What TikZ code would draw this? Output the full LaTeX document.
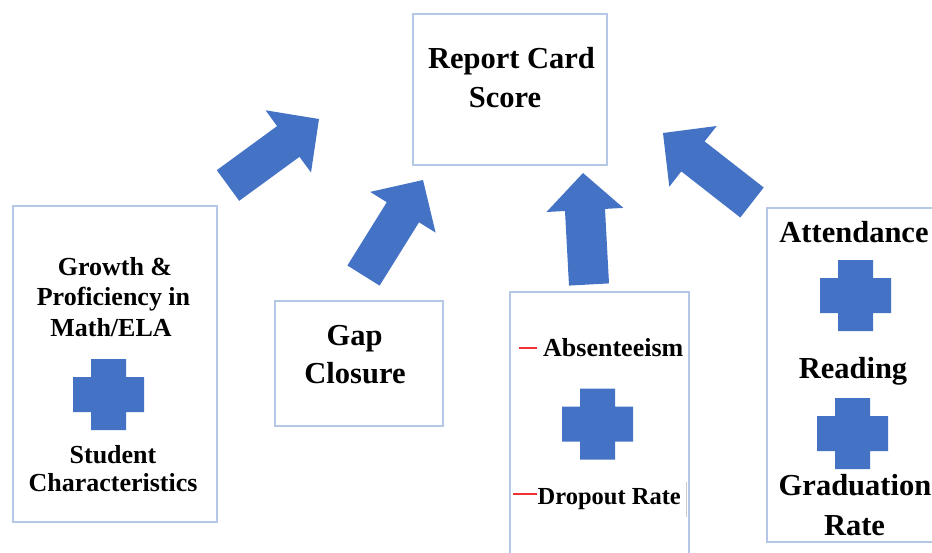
\documentclass[tikz,border=0pt]{standalone}
\usepackage{fontspec}
\setmainfont{Liberation Serif}
\definecolor{boxblue}{RGB}{180,199,231}
\definecolor{arrblue}{RGB}{68,114,196}
\definecolor{dashred}{RGB}{240,50,50}
\begin{document}
\begin{tikzpicture}[x=1pt,y=-1pt,
  box/.style={draw=boxblue,line width=1.6pt,inner sep=0pt},
  lbl/.style={anchor=base,inner sep=0pt,text=black},
  big/.style={lbl,font=\fontsize{30.5}{36}\selectfont\bfseries},
  mid/.style={lbl,font=\fontsize{26}{30}\selectfont\bfseries},
  blk/.style={fill=arrblue,draw=none},
  plussign/.pic={\fill[arrblue] (-17.5,-35.5) -- (17.5,-35.5) -- (17.5,-17.5) -- (35.5,-17.5) -- (35.5,17.5) -- (17.5,17.5) -- (17.5,35.5) -- (-17.5,35.5) -- (-17.5,17.5) -- (-35.5,17.5) -- (-35.5,-17.5) -- (-17.5,-17.5) -- cycle;}]
\useasboundingbox (0,0) rectangle (932,552);
\clip (0,0) rectangle (932,552);
\fill[white] (0,0) rectangle (932,552);

% boxes
\node[box,minimum width=194pt,minimum height=151pt] (report) at (510,89.5) {};
\node[box,minimum width=204pt,minimum height=316pt] (growth) at (115,364) {};
\node[box,minimum width=168pt,minimum height=125pt] (gap) at (359,363.5) {};
\node[box,minimum width=179pt,minimum height=300pt] (absent) at (599.5,442) {};
\node[box,minimum width=190pt,minimum height=334pt] (attend) at (862,375) {};

% texts
\node[big] (t1) at (511.5,68) {Report Card};
\node[big] (t2) at (505,107) {Score};

\node[mid] (g1) at (115,275) {Growth \&};
\node[mid] (g2) at (113.5,305) {Proficiency in};
\node[mid] (g3) at (111,336) {Math/ELA};
\node[mid] (g4) at (113,463) {Student};
\node[mid] (g5) at (113,491) {Characteristics};

\node[big] (c1) at (354.5,345) {Gap};
\node[big] (c2) at (355,383) {Closure};

\node[mid,anchor=base west] (a1) at (543,356) {Absenteeism};
\node[mid,anchor=base west,font=\fontsize{24.5}{30}\selectfont\bfseries] (a2) at (537.5,504) {Dropout Rate};
\coordinate (d1a) at (519,348); \coordinate (d1b) at (537,348);
\coordinate (d2a) at (513,494); \coordinate (d2b) at (537,494);
\draw[dashred,line width=2.5pt] (d1a) -- (d1b);
\draw[dashred,line width=2.5pt] (d2a) -- (d2b);
\coordinate (v1) at (686,482); \coordinate (v2) at (686,517);
\draw[black!20,line width=0.8pt] (v1) -- (v2);

\node[big] (r1) at (854,242) {Attendance};
\node[big] (r2) at (853,378) {Reading};
\node[big] (r3) at (855,495) {Graduation};
\node[big] (r4) at (854.5,535) {Rate};

% plus signs
\pic at (108.5,394.5) {plussign};
\pic at (597.5,424) {plussign};
\pic at (855.5,295.5) {plussign};
\pic at (852.5,433.5) {plussign};

% block arrows
\fill[blk] (239.2,200.8) -- (299.5,156.8) -- (311.0,172.5) -- (319,119) -- (265.6,110.3) -- (277.1,126.1) -- (216.8,170.2) -- cycle;
\fill[blk] (379.6,285.6) -- (419.0,222.3) -- (435.6,232.6) -- (423,180) -- (370.2,191.9) -- (386.8,202.2) -- (347.4,265.5) -- cycle;
\fill[blk] (609.0,283.4) -- (605.0,208.9) -- (623.4,207.9) -- (583,173) -- (546.5,212.0) -- (565.0,211.0) -- (569.0,285.6) -- cycle;
\fill[blk] (763.7,187.5) -- (704.6,141.4) -- (716.7,126.0) -- (663,133) -- (669.3,186.7) -- (681.3,171.4) -- (740.3,217.5) -- cycle;
\end{tikzpicture}
\end{document}
